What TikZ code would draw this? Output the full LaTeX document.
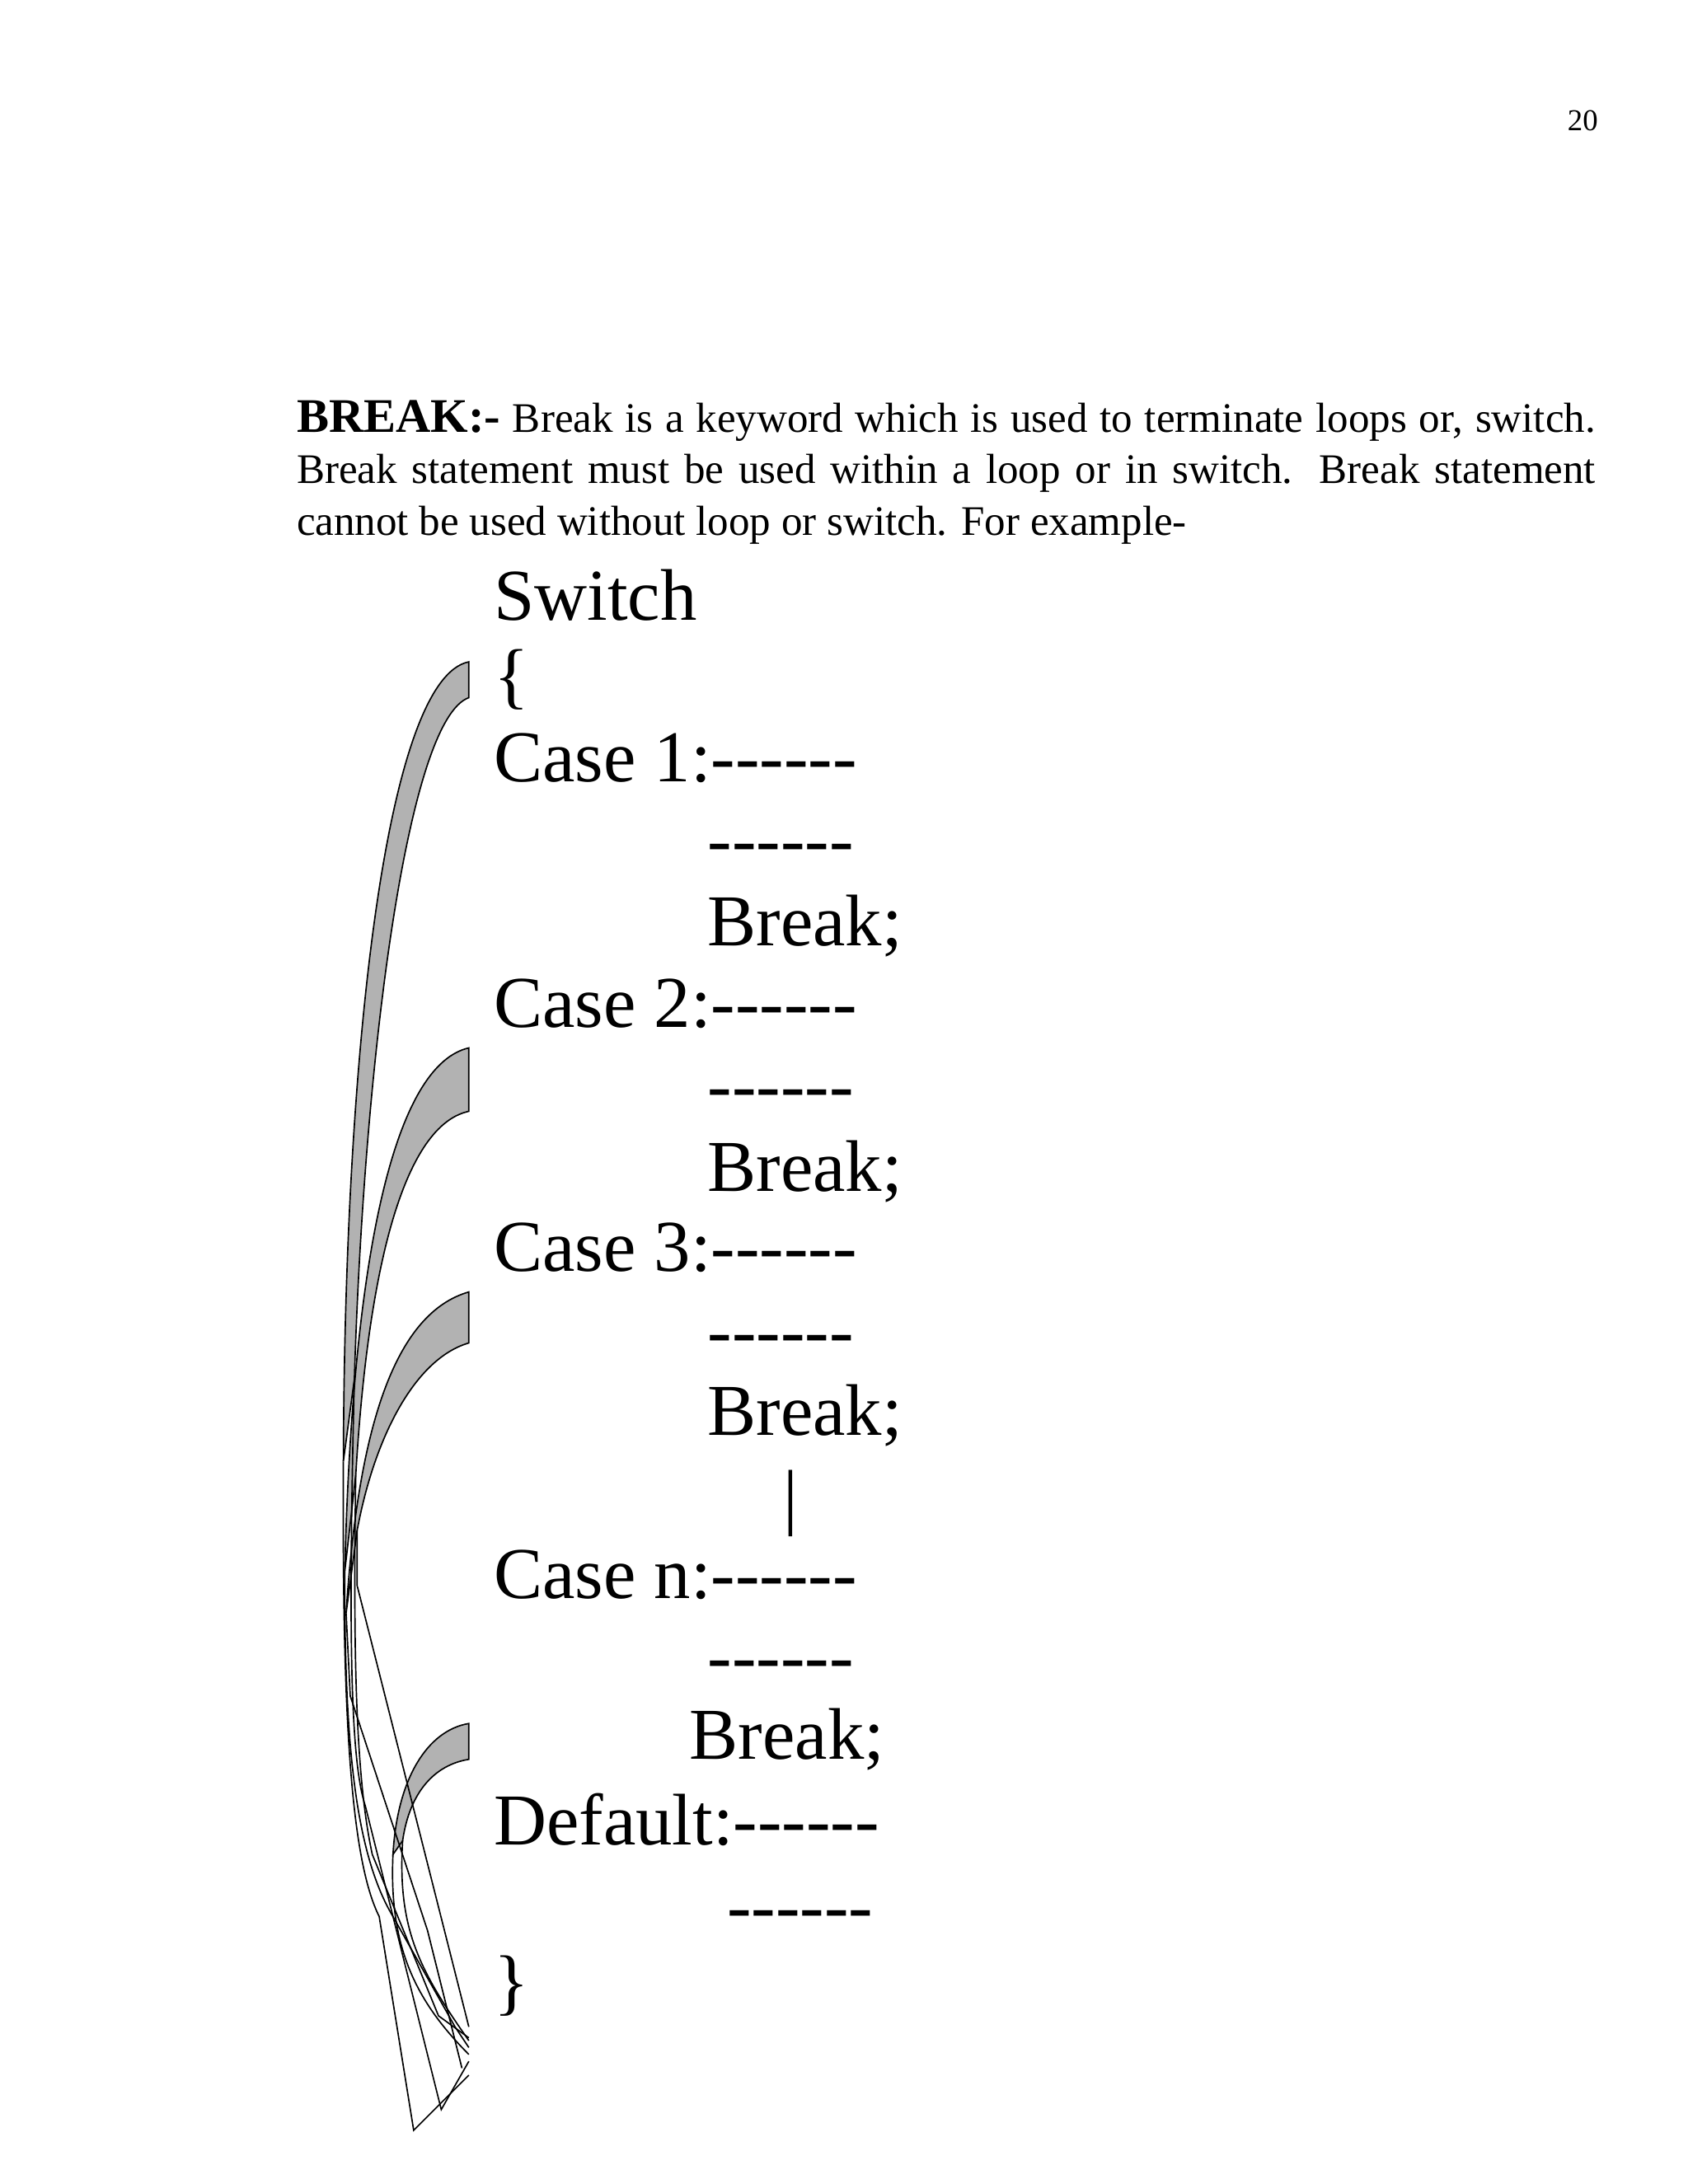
\documentclass[tikz,border=0pt]{standalone}
\usepackage{fontspec}
\setmainfont{Liberation Serif}
\newcommand{\dsh}{-{}-{}-{}-{}-{}-}
\begin{document}
\begin{tikzpicture}[x=1pt,y=-1pt,
  big/.style={anchor=base west,inner sep=0pt,font=\fontsize{53}{55}\selectfont},
  band/.style={fill=black!30,draw=black,line width=1pt},
  edge/.style={draw=black,line width=1pt}]
\useasboundingbox (0,0) rectangle (1224,1584);
\node[anchor=base east,inner sep=0pt,font=\fontsize{22}{24}\selectfont] (pg) at (1159,95) {20};
\node[anchor=north west,inner sep=0pt,text width=942pt,align=justify,font=\fontsize{30.5}{37.5}\selectfont] (para) at (215,290)
 {{\fontsize{35}{37}\selectfont\bfseries BREAK:-} Break is a keyword which is used to terminate loops or, switch. Break statement must be used within a loop or in switch. Break statement cannot be used without loop or switch. For example-};
\node[big] (sw) at (358,450) {Switch};
\node[big] (ob) at (358,508) {\{};
\node[big] (c1) at (358,567) {Case 1:\dsh};
\node[big] (d1) at (513,627) {\dsh};
\node[big] (b1) at (513,686) {Break;};
\node[big] (c2) at (358,745) {Case 2:\dsh};
\node[big] (d2) at (513,805) {\dsh};
\node[big] (b2) at (513,864) {Break;};
\node[big] (c3) at (358,922) {Case 3:\dsh};
\node[big] (d3) at (513,983) {\dsh};
\node[big] (b3) at (513,1041) {Break;};
\node[big] (bar) at (568,1103) {|};
\node[big] (cn) at (358,1159) {Case n:\dsh};
\node[big] (dn) at (513,1219) {\dsh};
\node[big] (bn) at (500,1276) {Break;};
\node[big] (df) at (358,1338) {Default:\dsh};
\node[big] (dd) at (527,1400) {\dsh};
\node[big] (cb) at (358,1455) {\}};
% curved arrows
\path[band] (340,480) .. controls (280,492) and (250,760) .. (249,1060) -- (257,1000) .. controls (264,770) and (295,522) .. (340,506) -- cycle;
\path[band] (340,760) .. controls (288,772) and (256,900) .. (250,1140) -- (258,1070) .. controls (268,900) and (298,815) .. (340,806) -- cycle;
\path[band] (340,937) .. controls (288,952) and (260,1030) .. (251,1170) -- (259,1110) .. controls (272,1040) and (302,985) .. (340,974) -- cycle;
\path[band] (340,1250) .. controls (310,1255) and (288,1290) .. (285,1345) -- (292,1335) .. controls (297,1300) and (315,1280) .. (340,1276) -- cycle;
% lower lines
\draw[edge] (249,1060) .. controls (248,1250) and (255,1350) .. (275,1390) -- (300,1545) -- (340,1505);
\draw[edge] (257,1000) .. controls (252,1200) and (255,1280) .. (265,1310) -- (320,1530) -- (340,1495);
\draw[edge] (250,1140) .. controls (250,1250) and (255,1340) .. (285,1390) -- (330,1470) -- (340,1485);
\draw[edge] (258,1070) .. controls (256,1200) and (258,1290) .. (270,1345) -- (318,1462) -- (340,1478);
\draw[edge] (251,1170) -- (254,1230) -- (310,1400) -- (335,1500);
\draw[edge] (259,1110) -- (259,1150) -- (340,1470);
\draw[edge] (285,1345) .. controls (282,1410) and (300,1450) .. (340,1490);
\draw[edge] (292,1335) .. controls (288,1400) and (305,1430) .. (340,1480);
\end{tikzpicture}
\end{document}
